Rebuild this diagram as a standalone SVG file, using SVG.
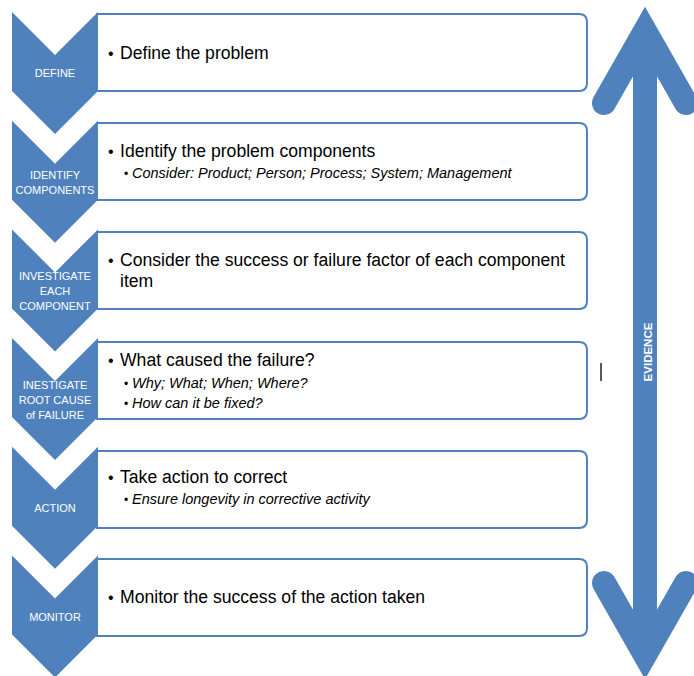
<svg xmlns="http://www.w3.org/2000/svg" width="694" height="676" viewBox="0 0 694 676">
<defs>
<style>
.chev{fill:#4f81bd;}
.box{fill:#fff;stroke:#4f81bd;stroke-width:2;}
.lbl{font-family:"Liberation Sans",Arial,sans-serif;font-size:11px;fill:#fff;text-anchor:middle;}
.main{font-family:"Liberation Sans",Arial,sans-serif;font-size:17.6px;fill:#000;}
.sub{font-family:"Liberation Sans",Arial,sans-serif;font-size:14.5px;font-style:italic;fill:#000;}
.bul{font-family:"Liberation Sans",Arial,sans-serif;font-size:16px;fill:#000;}
.sbul{font-family:"Liberation Sans",Arial,sans-serif;font-size:12px;fill:#000;}
.arrow{fill:none;stroke:#4f81bd;stroke-width:24;stroke-linecap:round;stroke-linejoin:miter;}
.ev{font-family:"Liberation Sans",Arial,sans-serif;font-size:11.5px;font-weight:bold;fill:#fff;text-anchor:middle;}
</style>
</defs>
<rect width="694" height="676" fill="#fff"/>

<g id="step-define">
<path class="box" d="M97,14 H579 Q587,14 587,22 V83 Q587,91 579,91 H97 Z"/>
<path class="chev" d="M12,12 L55,55 L98,12 L98,91 L55,134 L12,91 Z"/>
<text class="lbl" x="55" y="77">DEFINE</text>
<text class="bul" x="108" y="59">•</text>
<text class="main" x="120" y="59">Define the problem</text>
</g>

<g id="step-identify">
<path class="box" d="M97,123 H579 Q587,123 587,131 V192 Q587,200 579,200 H97 Z"/>
<path class="chev" d="M12,120.7 L55,163.7 L98,120.7 L98,199.7 L55,242.7 L12,199.7 Z"/>
<text class="lbl" x="55" y="179">IDENTIFY</text>
<text class="lbl" x="55" y="194">COMPONENTS</text>
<text class="bul" x="108" y="157">•</text>
<text class="main" x="120" y="157">Identify the problem components</text>
<text class="sbul" x="124" y="178">•</text>
<text class="sub" x="132" y="178">Consider: Product; Person; Process; System; Management</text>
</g>

<g id="step-investigate">
<path class="box" d="M97,232 H579 Q587,232 587,240 V301 Q587,309 579,309 H97 Z"/>
<path class="chev" d="M12,229.4 L55,272.4 L98,229.4 L98,308.4 L55,351.4 L12,308.4 Z"/>
<text class="lbl" x="55" y="280">INVESTIGATE</text>
<text class="lbl" x="55" y="295">EACH</text>
<text class="lbl" x="55" y="310">COMPONENT</text>
<text class="bul" x="108" y="266">•</text>
<text class="main" x="120" y="266">Consider the success or failure factor of each component</text>
<text class="main" x="120" y="287">item</text>
</g>

<g id="step-root-cause">
<path class="box" d="M97,342 H579 Q587,342 587,350 V411 Q587,419 579,419 H97 Z"/>
<path class="chev" d="M12,338.1 L55,381.1 L98,338.1 L98,417.1 L55,460.1 L12,417.1 Z"/>
<text class="lbl" x="55" y="389">INESTIGATE</text>
<text class="lbl" x="55" y="404">ROOT CAUSE</text>
<text class="lbl" x="55" y="419">of FAILURE</text>
<text class="bul" x="108" y="366">•</text>
<text class="main" x="120" y="366">What caused the failure?</text>
<text class="sbul" x="124" y="388">•</text>
<text class="sub" x="132" y="388">Why; What; When; Where?</text>
<text class="sbul" x="124" y="408">•</text>
<text class="sub" x="132" y="408">How can it be fixed?</text>
</g>

<g id="step-action">
<path class="box" d="M97,451 H579 Q587,451 587,459 V520 Q587,528 579,528 H97 Z"/>
<path class="chev" d="M12,446.8 L55,489.8 L98,446.8 L98,525.8 L55,568.8 L12,525.8 Z"/>
<text class="lbl" x="55" y="512">ACTION</text>
<text class="bul" x="108" y="483">•</text>
<text class="main" x="120" y="483">Take action to correct</text>
<text class="sbul" x="124" y="504">•</text>
<text class="sub" x="132" y="504">Ensure longevity in corrective activity</text>
</g>

<g id="step-monitor">
<path class="box" d="M97,559 H579 Q587,559 587,567 V628 Q587,636 579,636 H97 Z"/>
<path class="chev" d="M12,555.5 L55,598.5 L98,555.5 L98,634.5 L55,677.5 L12,634.5 Z"/>
<text class="lbl" x="55" y="621">MONITOR</text>
<text class="bul" x="108" y="603">•</text>
<text class="main" x="120" y="603">Monitor the success of the action taken</text>
</g>

<g id="evidence-arrow">
<path class="arrow" d="M604,103 L645,31 L686,103"/>
<path class="arrow" d="M604,583 L645,655 L686,583"/>
<line x1="645" y1="40" x2="645" y2="650" stroke="#4f81bd" stroke-width="24"/>
<text class="ev" transform="translate(652,352) rotate(-90)">EVIDENCE</text>
</g>

<line x1="601" y1="363" x2="601" y2="381" stroke="#000" stroke-width="1.3"/>
</svg>
